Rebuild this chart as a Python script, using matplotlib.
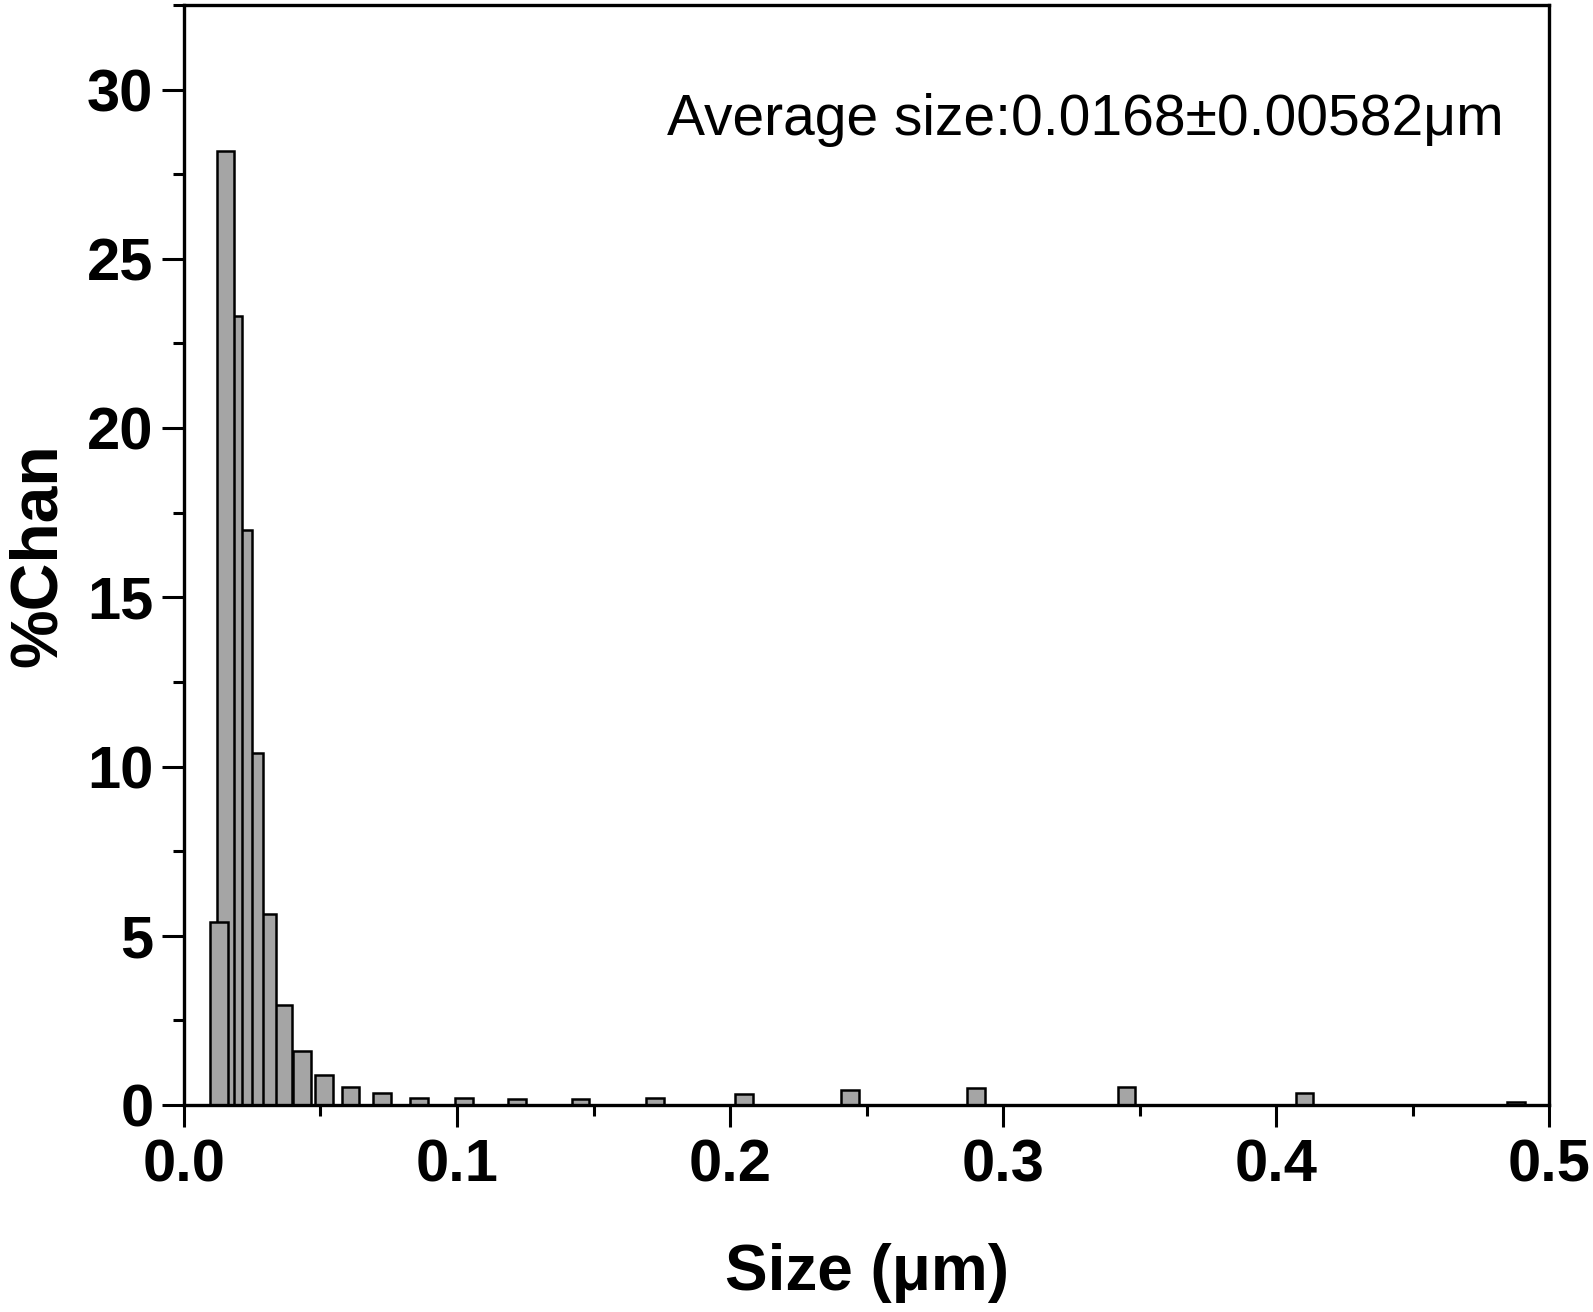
import numpy as np
import matplotlib.pyplot as plt
from matplotlib.ticker import MultipleLocator

plt.rcParams['font.family'] = ['Liberation Sans', 'DejaVu Sans']

# channel sizes (um) and % per channel
sizes = [0.0128, 0.0152, 0.0181, 0.0215, 0.0256, 0.0305, 0.0362, 0.0431,
         0.0512, 0.0610, 0.0725, 0.0862, 0.1026, 0.1220, 0.1452, 0.1726,
         0.2052, 0.2440, 0.2902, 0.3452, 0.4104, 0.4880]
chan = [5.4, 28.2, 23.3, 17.0, 10.4, 5.65, 2.96, 1.58,
        0.90, 0.54, 0.34, 0.22, 0.20, 0.18, 0.19, 0.22,
        0.31, 0.43, 0.50, 0.52, 0.34, 0.10]
note = "Average size:0.0168\u00b10.00582\u03bcm"

fig = plt.figure(figsize=(15.93, 13.12), dpi=100)
ax = fig.add_axes([0.1155, 0.1578, 0.9724 - 0.1155, 0.9962 - 0.1578])

# earlier channels sit on top of later ones
n = len(sizes)
for i, (s, c) in enumerate(zip(sizes, chan)):
    ax.bar(s, c, width=0.0065, color="#a5a5a5", edgecolor="black",
           linewidth=1.8, zorder=3 + n - i)

ax.set_xlim(0, 0.5)
ax.set_ylim(0, 32.5)
ax.xaxis.set_major_locator(MultipleLocator(0.1))
ax.xaxis.set_minor_locator(MultipleLocator(0.05))
ax.yaxis.set_major_locator(MultipleLocator(5))
ax.yaxis.set_minor_locator(MultipleLocator(2.5))
ax.xaxis.set_major_formatter(plt.FuncFormatter(lambda v, p: f"{v:.1f}"))

for sp in ax.spines.values():
    sp.set_linewidth(2.4)
    sp.set_zorder(50)
ax.tick_params(which="major", direction="out", length=16, width=2.2,
               labelsize=43, pad=6)
ax.tick_params(axis="x", which="major", pad=8)
ax.tick_params(which="minor", direction="out", length=8, width=2.2)
for lab in ax.get_xticklabels() + ax.get_yticklabels():
    lab.set_fontweight("bold")

ax.set_xlabel("Size (\u03bcm)", fontsize=46, fontweight="bold", labelpad=36)
ax.set_ylabel("%Chan", fontsize=47.5, fontweight="bold", labelpad=12)

ax.text(0.967, 0.882, note, transform=ax.transAxes, ha="right",
        va="baseline", fontsize=41)

fig.savefig("out.png", dpi=100)
